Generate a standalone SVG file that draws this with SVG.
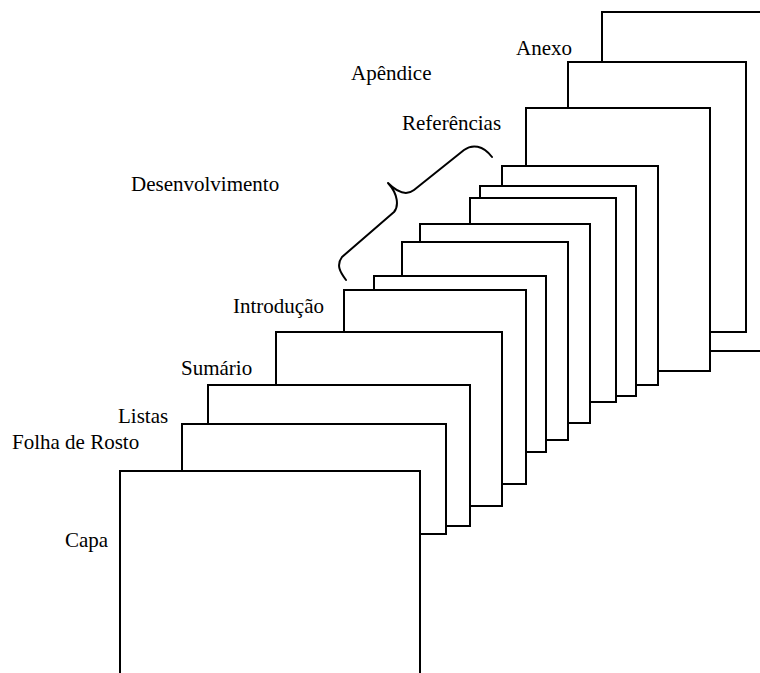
<svg xmlns="http://www.w3.org/2000/svg" width="760" height="673" viewBox="0 0 760 673">
  <style>
    .page { fill: #ffffff; stroke: #000000; stroke-width: 2; }
    .brace { fill: none; stroke: #000000; stroke-width: 2; stroke-linecap: round; stroke-linejoin: round; }
  </style>
  <rect x="0" y="0" width="760" height="673" fill="#ffffff"/>

  <g font-family="'Liberation Serif', 'DejaVu Serif', serif" font-size="21" fill="#000000">
  <g id="anexo">
    <rect class="page" x="602" y="12" width="170" height="339"/>
    <text x="516" y="55">Anexo</text>
  </g>
  <g id="apendice">
    <rect class="page" x="568" y="62" width="178" height="270"/>
    <text x="351" y="80">Apêndice</text>
  </g>
  <g id="referencias">
    <rect class="page" x="526" y="108" width="184" height="263"/>
    <text x="402" y="130">Referências</text>
  </g>
  <g id="desenvolvimento">
    <rect class="page" x="502" y="166" width="156" height="219"/>
    <rect class="page" x="480" y="186" width="156" height="210"/>
    <rect class="page" x="470" y="198" width="146" height="204"/>
    <rect class="page" x="420" y="224" width="170" height="199"/>
    <rect class="page" x="402" y="242" width="166" height="198"/>
    <rect class="page" x="374" y="276" width="172" height="176"/>
    <text x="131" y="191">Desenvolvimento</text>
  </g>
  <g id="introducao">
    <rect class="page" x="344" y="290" width="182" height="194"/>
    <text x="233" y="313">Introdução</text>
  </g>
  <g id="sumario">
    <rect class="page" x="276" y="332" width="226" height="174"/>
    <text x="181" y="375">Sumário</text>
  </g>
  <g id="listas">
    <rect class="page" x="208" y="385" width="262" height="141"/>
    <text x="118" y="423">Listas</text>
  </g>
  <g id="folha-de-rosto">
    <rect class="page" x="182" y="424" width="264" height="110"/>
    <text x="12" y="449">Folha de Rosto</text>
  </g>
  <g id="capa">
    <rect class="page" x="120" y="471" width="300" height="220"/>
    <text x="65" y="547">Capa</text>
  </g>
  </g>

  <g id="connectors">
    <path class="brace" d="M346,280 C340,272 336,265 342,257 L394,212 C399,206 398,194 388,183 C396,191 405,197 414,190 L464,150 C472,144 483,145 492,157"/>
  </g>
</svg>
